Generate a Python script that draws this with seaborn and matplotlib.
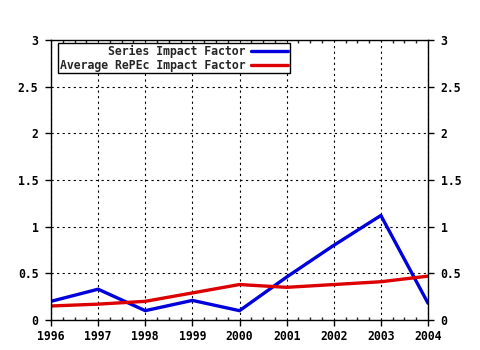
import matplotlib
matplotlib.use("Agg")
import matplotlib.pyplot as plt
import seaborn as sns
import pandas as pd
from matplotlib.ticker import MultipleLocator, FuncFormatter

years = [1996, 1997, 1998, 1999, 2000, 2001, 2002, 2003, 2004]
series_if = [0.20, 0.33, 0.10, 0.21, 0.10, 0.46, 0.80, 1.12, 0.18]
repec_if = [0.15, 0.17, 0.20, 0.29, 0.38, 0.35, 0.38, 0.41, 0.47]
labels = ["Series Impact Factor", "Average RePEc Impact Factor"]
colors = ["#0000dd", "#dd0000"]

df = pd.concat([
    pd.DataFrame({"year": years, "value": series_if, "series": labels[0]}),
    pd.DataFrame({"year": years, "value": repec_if, "series": labels[1]}),
])

sns.set_style("white")
plt.rcParams['font.family'] = ['DejaVu Sans Mono']
plt.rcParams['font.weight'] = 'bold'

fig = plt.figure(figsize=(4.8, 3.5), dpi=100)
ax = fig.add_axes([51/480, 30/350, 377/480, 280/350])

sns.lineplot(data=df, x="year", y="value", hue="series", palette=colors,
             linewidth=2.4, ax=ax, legend=False)

ax.set_xlim(1996, 2004)
ax.set_ylim(0, 3)
ax.set_xlabel("")
ax.set_ylabel("")
ax.xaxis.set_major_locator(MultipleLocator(1))
ax.xaxis.set_minor_locator(MultipleLocator(0.25))
ax.yaxis.set_major_locator(MultipleLocator(0.5))
ax.yaxis.set_major_formatter(FuncFormatter(lambda v, p: f"{v:g}"))
ax.grid(True, which="major", color="black", linestyle=(0, (2, 3)), linewidth=0.8)
for s in ax.spines.values():
    s.set_color("black")
    s.set_linewidth(1.0)
ax.tick_params(axis="both", which="major", direction="out", length=4, width=1,
               color="black", labelsize=8.3, labelcolor="black")
ax.tick_params(axis="y", left=True, right=True, labelleft=True, labelright=True, pad=5)
ax.tick_params(axis="x", bottom=True, top=False, pad=3)
ax.tick_params(axis="x", which="minor", bottom=True, top=True, direction="in", length=2, width=1)
for t in ax.get_xticklabels() + ax.get_yticklabels():
    t.set_fontweight("bold")

from matplotlib.lines import Line2D
handles = [Line2D([], [], color=c, linewidth=2.4) for c in colors]
leg = ax.legend(handles, labels, loc="upper left", bbox_to_anchor=(0.018, 0.988),
                markerfirst=False, frameon=True, fancybox=False, framealpha=1,
                edgecolor="black", fontsize=8.3, handlelength=3.2,
                borderpad=0.15, labelspacing=0.05, handletextpad=0.5,
                borderaxespad=0, prop={"weight": "bold", "size": 8.3})
leg.get_frame().set_linewidth(1.0)

fig.savefig("out.png", dpi=100)
